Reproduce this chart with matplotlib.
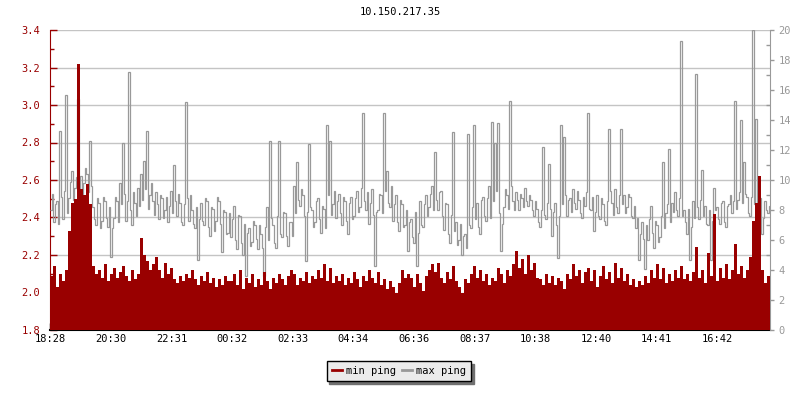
import matplotlib
matplotlib.use('Agg')
import matplotlib.pyplot as plt
from matplotlib.lines import Line2D
from matplotlib.ticker import MultipleLocator
import numpy as np

plt.rcParams['font.family'] = ['DejaVu Sans Mono']
plt.rcParams['font.size'] = 7.5

# 24 hours starting 18:28; min ping every 6 minutes, max ping every 3 minutes
min_step = 6
max_step = 3

min_ping = [
    2.09, 2.14, 2.03, 2.10, 2.06, 2.12, 2.33, 2.48, 2.50, 3.22,
    2.55, 2.52, 2.58, 2.47, 2.14, 2.10, 2.12, 2.08, 2.15, 2.06,
    2.10, 2.13, 2.08, 2.11, 2.14, 2.09, 2.06, 2.12, 2.07, 2.10,
    2.29, 2.20, 2.17, 2.12, 2.15, 2.19, 2.12, 2.08, 2.16, 2.10,
    2.13, 2.07, 2.05, 2.09, 2.06, 2.10, 2.08, 2.12, 2.07, 2.04,
    2.09, 2.06, 2.11, 2.05, 2.08, 2.03, 2.07, 2.04, 2.09, 2.06,
    2.06, 2.10, 2.04, 2.12, 2.02, 2.08, 2.05, 2.10, 2.03, 2.07,
    2.04, 2.11, 2.06, 2.02, 2.08, 2.05, 2.10, 2.07, 2.04, 2.09,
    2.12, 2.10, 2.04, 2.08, 2.06, 2.11, 2.05, 2.09, 2.07, 2.12,
    2.08, 2.15, 2.06, 2.13, 2.05, 2.09, 2.06, 2.10, 2.04, 2.08,
    2.05, 2.11, 2.07, 2.03, 2.09, 2.06, 2.12, 2.08, 2.05, 2.11,
    2.04, 2.07, 2.02, 2.06, 2.03, 2.00, 2.05, 2.12, 2.08, 2.10,
    2.08, 2.03, 2.10, 2.05, 2.01, 2.09, 2.12, 2.15, 2.11, 2.16,
    2.08, 2.05, 2.11, 2.07, 2.14, 2.06, 2.03, 2.00, 2.07, 2.05,
    2.10, 2.14, 2.08, 2.12, 2.06, 2.10, 2.04, 2.08, 2.06, 2.13,
    2.10, 2.05, 2.12, 2.09, 2.15, 2.22, 2.13, 2.18, 2.10, 2.20,
    2.12, 2.16, 2.08, 2.07, 2.04, 2.10, 2.05, 2.09, 2.04, 2.08,
    2.06, 2.02, 2.10, 2.07, 2.15, 2.09, 2.12, 2.05, 2.11, 2.13,
    2.06, 2.12, 2.03, 2.09, 2.14, 2.07, 2.11, 2.05, 2.16, 2.08,
    2.13, 2.06, 2.10, 2.04, 2.07, 2.03, 2.06, 2.04, 2.09, 2.05,
    2.12, 2.08, 2.15, 2.07, 2.13, 2.05, 2.10, 2.06, 2.12, 2.08,
    2.14, 2.07, 2.10, 2.06, 2.11, 2.24, 2.08, 2.12, 2.05, 2.21,
    2.09, 2.42, 2.06, 2.13, 2.08, 2.15, 2.07, 2.12, 2.26, 2.10,
    2.14, 2.08, 2.12, 2.19, 2.38, 2.48, 2.62, 2.12, 2.05, 2.09,
]

max_ping = [
    8.0, 9.1, 7.2, 8.4, 8.6, 7.1, 13.3, 8.9, 7.4, 9.3, 15.7, 7.8, 8.8, 9.9, 10.6, 8.7, 9.5, 10.2, 15.4, 9.0,
    10.3, 8.9, 9.8, 10.8, 10.4, 9.2, 12.6, 9.6, 8.2, 7.4, 7.0, 8.8, 8.5, 6.8, 7.3, 8.9, 8.6, 7.5, 6.9, 8.2,
    4.9, 6.8, 7.5, 8.9, 8.6, 7.2, 9.8, 8.4, 12.5, 9.1, 7.3, 8.6, 17.2, 8.0, 7.0, 9.2, 8.5, 7.6, 9.5, 8.3,
    10.4, 8.7, 11.3, 9.4, 13.3, 8.1, 9.0, 9.8, 8.6, 7.7, 9.2, 8.4, 7.4, 9.0, 8.8, 7.5, 8.0, 8.9, 7.2, 8.3,
    9.3, 7.8, 11.0, 8.6, 7.6, 9.1, 8.5, 7.2, 7.0, 8.4, 15.2, 8.8, 7.3, 9.0, 8.0, 7.1, 6.8, 8.2, 4.7, 7.4,
    8.5, 7.3, 7.0, 8.8, 8.6, 6.9, 6.3, 8.2, 8.1, 6.6, 7.3, 8.9, 8.6, 7.1, 5.2, 8.0, 7.9, 6.4, 6.5, 7.8,
    6.2, 7.4, 8.3, 6.0, 5.4, 7.7, 7.6, 5.8, 5.0, 7.1, 3.6, 6.5, 6.8, 5.6, 5.9, 7.3, 7.0, 6.1, 5.4, 7.0,
    6.4, 5.5, 3.6, 6.9, 8.2, 6.0, 12.6, 7.5, 7.0, 5.8, 5.5, 7.6, 12.6, 6.4, 6.2, 7.9, 7.8, 6.3, 5.6, 7.2,
    7.2, 6.3, 9.6, 7.8, 11.2, 8.7, 8.3, 9.4, 9.0, 7.6, 4.6, 7.9, 12.4, 8.2, 8.0, 6.9, 7.2, 8.6, 8.8, 7.4,
    6.5, 8.3, 8.1, 6.8, 13.7, 9.0, 12.6, 7.7, 8.4, 9.3, 7.5, 8.6, 9.1, 7.8, 7.0, 8.9, 8.6, 7.3, 6.4, 8.5,
    8.9, 7.4, 7.6, 8.8, 9.3, 7.9, 8.2, 9.5, 14.5, 8.6, 8.0, 9.2, 7.1, 8.5, 9.4, 7.7, 4.3, 7.9, 8.0, 9.1,
    9.0, 7.8, 14.5, 9.3, 10.6, 8.5, 8.2, 9.6, 7.3, 8.4, 9.0, 7.2, 6.6, 8.7, 8.4, 6.9, 7.0, 8.0, 5.3, 7.2,
    7.4, 6.2, 5.8, 7.9, 4.3, 6.5, 8.6, 7.0, 6.9, 8.4, 9.0, 7.6, 8.2, 9.1, 9.6, 8.0, 11.9, 8.7, 8.0, 9.2,
    9.3, 7.6, 6.7, 8.5, 8.4, 6.4, 5.8, 7.7, 13.2, 6.6, 7.2, 5.7, 6.0, 7.1, 5.0, 6.3, 6.4, 5.5, 13.1, 7.0,
    6.8, 8.2, 13.7, 7.4, 8.5, 6.9, 6.4, 8.7, 8.9, 7.6, 7.3, 8.8, 9.6, 7.5, 13.9, 8.6, 12.5, 9.3, 13.8, 7.8,
    5.3, 7.1, 8.2, 9.4, 9.0, 8.1, 15.3, 9.6, 8.6, 8.0, 9.2, 8.7, 8.0, 9.1, 8.8, 8.2, 9.5, 8.6, 8.3, 9.0,
    8.7, 8.0, 7.6, 8.6, 8.1, 7.2, 6.9, 8.0, 12.2, 7.7, 7.4, 8.5, 11.1, 8.1, 6.3, 7.9, 8.5, 7.0, 4.8, 7.6,
    13.7, 8.4, 12.9, 9.0, 7.6, 8.7, 8.8, 7.9, 9.4, 8.5, 8.1, 9.3, 8.7, 7.8, 7.5, 8.9, 8.3, 9.2, 14.5, 8.1,
    8.0, 8.9, 6.6, 7.9, 9.0, 7.6, 7.4, 8.8, 8.4, 7.3, 7.0, 8.6, 13.4, 9.3, 8.5, 7.7, 9.4, 8.2, 7.8, 9.0,
    13.4, 8.4, 9.0, 7.8, 8.2, 9.1, 8.9, 7.6, 7.5, 8.3, 6.8, 7.5, 4.7, 6.4, 7.2, 6.1, 4.1, 7.0, 6.0, 7.4,
    8.3, 6.5, 5.5, 7.3, 7.0, 5.9, 6.2, 7.6, 11.2, 6.8, 7.8, 8.4, 12.1, 7.2, 8.5, 7.9, 9.2, 8.0, 7.6, 8.8,
    19.3, 7.6, 8.0, 7.2, 6.4, 8.1, 4.7, 6.9, 8.6, 7.5, 17.1, 8.2, 7.4, 8.7, 10.7, 7.6, 8.3, 7.1, 7.0, 8.0,
    4.7, 7.3, 9.5, 8.0, 8.2, 7.4, 7.1, 8.5, 8.6, 7.2, 6.9, 8.3, 8.4, 9.0, 7.8, 8.6, 15.3, 8.1, 8.7, 9.2,
    14.0, 8.5, 11.2, 9.1, 8.9, 7.8, 7.6, 8.9, 20.0, 8.4, 14.1, 7.6, 8.0, 8.8, 6.4, 7.5, 8.6, 8.0, 7.8, 8.3,
]

tick_minutes = [0, 122, 243, 364, 485, 606, 728, 849, 970, 1092, 1213, 1334]
tick_labels = ['18:28', '20:30', '22:31', '00:32', '02:33', '04:34',
               '06:36', '08:37', '10:38', '12:40', '14:41', '16:42']

red = '#990000'
grey = '#999999'

fig = plt.figure(figsize=(8, 4), dpi=100)
fig.patch.set_facecolor('white')

# bottom layer: left axis with grid
ax = fig.add_axes([0.0625, 0.175, 0.9, 0.75])
ax.set_xlim(0, 1440)
ax.set_ylim(1.8, 3.4)
ax.yaxis.set_major_locator(MultipleLocator(0.2))
ax.yaxis.set_minor_locator(MultipleLocator(0.1))
ax.grid(True, axis='y', color='#c4c4c4', lw=1.0)
ax.set_axisbelow(True)
ax.set_xticks(tick_minutes)
ax.set_xticklabels(tick_labels)
ax.tick_params(axis='x', direction='in', length=5, width=1, color='black', pad=3)
ax.tick_params(axis='y', which='major', direction='in', length=5, width=1,
               color=red, labelcolor=red, pad=7)
ax.tick_params(axis='y', which='minor', direction='in', length=3, width=1, color=red)
ax.spines['left'].set_color(red)
ax.spines['bottom'].set_color('black')
ax.spines['bottom'].set_linewidth(1.5)
ax.spines['top'].set_visible(False)
ax.spines['right'].set_visible(False)

# middle layer: max ping on the right axis
ax2 = ax.twinx()
ax2.set_ylim(0, 20)
ax2.stairs(max_ping, np.arange(len(max_ping) + 1) * max_step,
           baseline=None, color=grey, lw=0.9)
ax2.yaxis.set_major_locator(MultipleLocator(2))
ax2.yaxis.set_minor_locator(MultipleLocator(1))
ax2.tick_params(axis='y', which='major', direction='out', length=3, width=1,
                color=grey, labelcolor=grey, pad=3)
ax2.tick_params(axis='y', which='minor', direction='in', length=3, width=1, color=grey)
ax2.spines['right'].set_color(grey)
for s in ['left', 'top', 'bottom']:
    ax2.spines[s].set_visible(False)

# top layer: min ping filled area
ax3 = ax.twinx()
ax3.set_ylim(1.8, 3.4)
ax3.stairs(min_ping, np.arange(len(min_ping) + 1) * min_step,
           baseline=1.8, fill=True, color=red, lw=0)
ax3.axis('off')

fig.text(0.5, 0.97, '10.150.217.35', ha='center', va='center', fontsize=7.5)

handles = [Line2D([], [], color=red, lw=2), Line2D([], [], color=grey, lw=2)]
fig.legend(handles, ['min ping', 'max ping'], loc='center', ncol=2,
           bbox_to_anchor=(0.4988, 0.0725), frameon=True, fancybox=False,
           facecolor='#ebebeb', edgecolor='black', framealpha=1,
           shadow={'facecolor': '#707070', 'edgecolor': '#707070', 'alpha': 1},
           handlelength=1.0, handletextpad=0.4, columnspacing=0.5,
           borderpad=0.5, fontsize=7.5)

fig.savefig('out.png', dpi=100)
